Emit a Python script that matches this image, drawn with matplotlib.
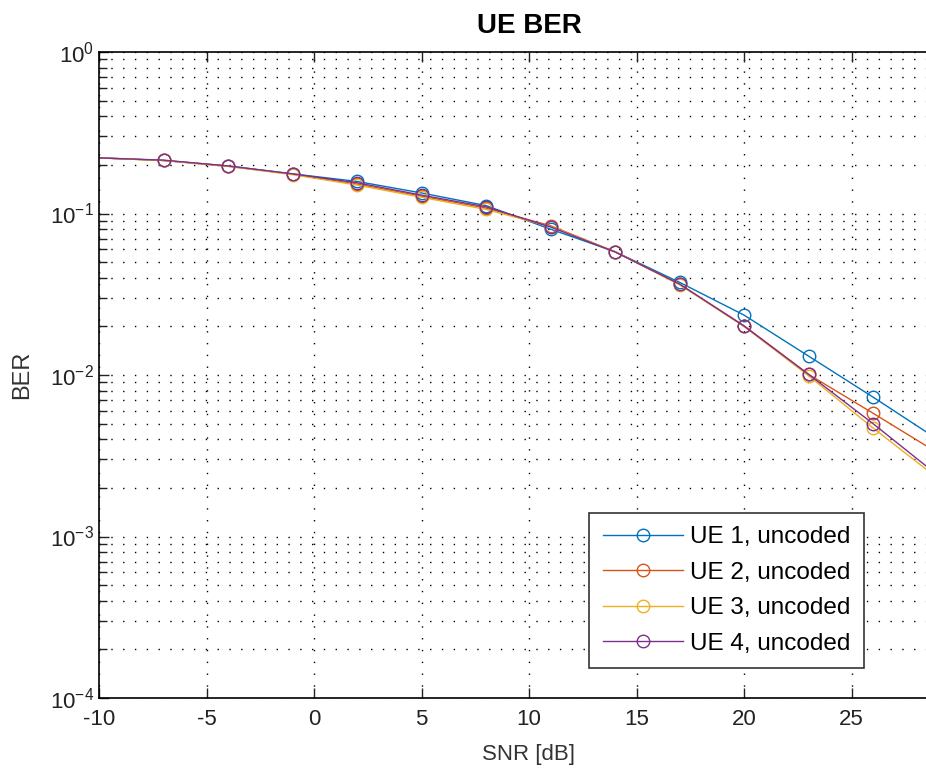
import matplotlib
matplotlib.use("Agg")
import matplotlib.pyplot as plt
from matplotlib.ticker import LogLocator, FixedLocator, FixedFormatter, NullFormatter

plt.rcParams['font.family'] = ['Liberation Sans', 'DejaVu Sans']
plt.rcParams['mathtext.fontset'] = 'custom'
plt.rcParams['mathtext.rm'] = 'Liberation Sans'
plt.rcParams['mathtext.it'] = 'Liberation Sans'
plt.rcParams['axes.unicode_minus'] = False

snr_db = [-10, -7, -4, -1, 2, 5, 8, 11, 14, 17, 20, 23, 26, 29]
ber_ue1 = [0.221, 0.213, 0.197, 0.176, 0.158, 0.134, 0.112, 0.080, 0.058, 0.0375, 0.0235, 0.0131, 0.0073, 0.0040]
ber_ue2 = [0.221, 0.213, 0.196, 0.175, 0.152, 0.128, 0.108, 0.084, 0.058, 0.0365, 0.0202, 0.0101, 0.0058, 0.0033]
ber_ue3 = [0.221, 0.213, 0.196, 0.174, 0.150, 0.126, 0.106, 0.083, 0.058, 0.0362, 0.0200, 0.0099, 0.0047, 0.0023]
ber_ue4 = [0.221, 0.214, 0.197, 0.176, 0.155, 0.130, 0.110, 0.0825, 0.0578, 0.0366, 0.0201, 0.0101, 0.0050, 0.0024]
labels = ['UE 1, uncoded', 'UE 2, uncoded', 'UE 3, uncoded', 'UE 4, uncoded']
colors = ['#0072BD', '#D95319', '#EDB120', '#7E2F8E']
x_ticks = [-10, -5, 0, 5, 10, 15, 20, 25, 30]
x_tick_labels = ['-10', '-5', '0', '5', '10', '15', '20', '25', '']

fig = plt.figure(figsize=(9.26, 7.78), dpi=100)
ax = fig.add_axes([99/926, 1-698/778, (959-99)/926, (698-52)/778])

for ys, lab, c in zip([ber_ue1, ber_ue2, ber_ue3, ber_ue4], labels, colors):
    ax.semilogy(snr_db, ys, '-o', color=c, lw=1.0, markersize=9,
                markerfacecolor='none', markeredgewidth=1.0, label=lab,
                markevery=slice(1, None))

ax.set_xlim(-10, 30)
ax.set_ylim(1e-4, 1)
ax.xaxis.set_major_locator(FixedLocator(x_ticks))
ax.xaxis.set_major_formatter(FixedFormatter(x_tick_labels))
ax.yaxis.set_major_locator(LogLocator(base=10, numticks=10))
ax.yaxis.set_minor_locator(LogLocator(base=10, subs=range(2, 10), numticks=20))
ax.yaxis.set_minor_formatter(NullFormatter())

dot = (0, (1, 7.5))
ax.grid(True, which='major', axis='both', color='black', linestyle=dot, lw=1.0)
ax.grid(True, which='minor', axis='y', color='black', linestyle=dot, lw=1.0)

ax.tick_params(which='both', direction='in', top=True, right=True, labelsize=16,
               colors='#222222', width=1.0)
ax.tick_params(which='major', length=7)
ax.tick_params(which='minor', length=6)
ax.tick_params(axis='x', pad=8)
for s in ax.spines.values():
    s.set_color('black')
    s.set_linewidth(1.2)

ax.set_title('UE BER', fontsize=20, fontweight='bold', pad=14)
ax.set_xlabel('SNR [dB]', fontsize=16, color='#333333', labelpad=10)
ax.set_ylabel('BER', fontsize=17, color='#333333', labelpad=12)

leg = ax.legend(loc='lower right', bbox_to_anchor=(864/926, 1-668/778),
                bbox_transform=fig.transFigure, fontsize=17.5, frameon=True,
                fancybox=False, framealpha=1, edgecolor='#333333',
                handlelength=3.3, labelspacing=0.55, borderpad=0.55,
                handletextpad=0.3, borderaxespad=0)
leg.get_frame().set_linewidth(1.2)

fig.savefig('out.png', dpi=100)
